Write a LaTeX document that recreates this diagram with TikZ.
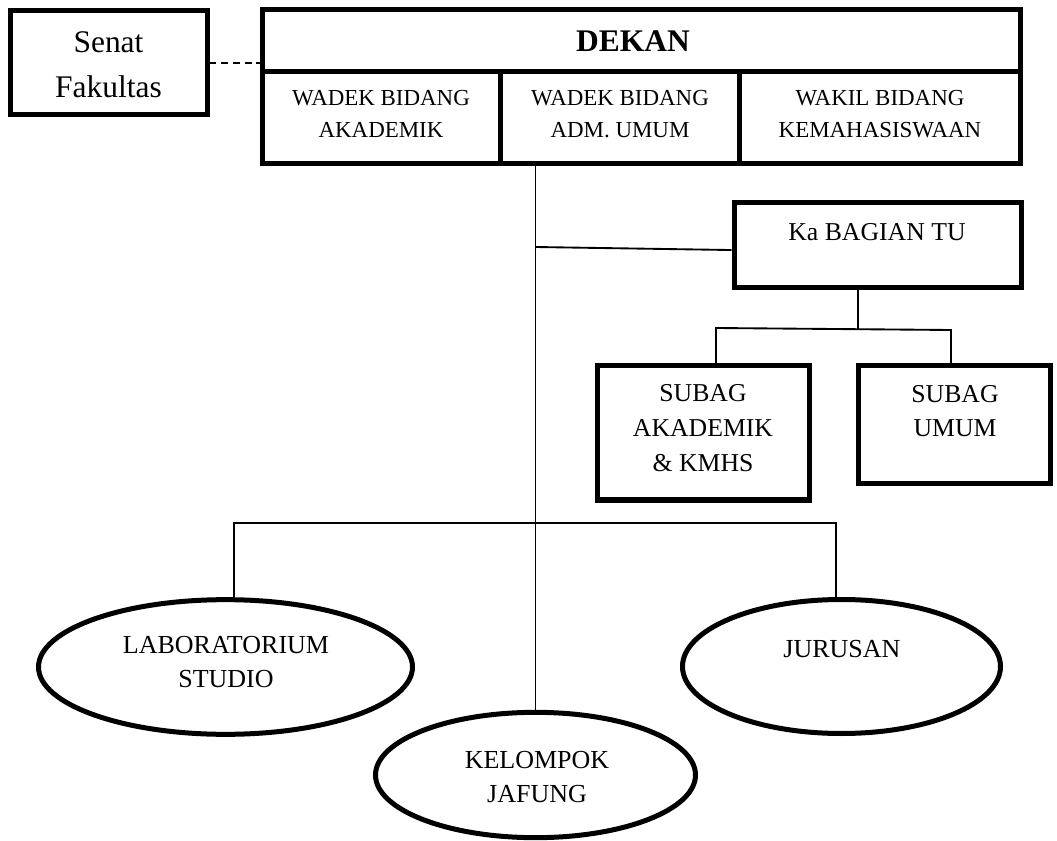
\documentclass[tikz,border=0pt]{standalone}
\usepackage{fontspec}
\setmainfont{Liberation Serif}
\usetikzlibrary{fit,shapes.geometric}
\tikzset{
  boxst/.style={draw, line width=3.75pt, inner sep=0pt, fit={#1}},
  ovalst/.style={draw, ellipse, line width=3.75pt, inner sep=0pt},
  conn/.style={line width=1.4pt},
  dashconn/.style={line width=1.5pt, dash pattern=on 5.2pt off 3.6pt},
  txt/.style={align=center, inner sep=0pt},
  fbig/.style={font=\fontsize{23.6}{33.8}\selectfont},
  fcell/.style={font=\fontsize{17.2}{23.8}\selectfont},
  fmid/.style={font=\fontsize{19.3}{26}\selectfont},
  foval/.style={font=\fontsize{19.5}{25.5}\selectfont}
}
\begin{document}
\begin{tikzpicture}[x=0.75pt,y=-0.75pt]
\path[use as bounding box, fill=white] (0,0) rectangle (1057,841);

% boxes
\node[boxst={(10.5,10.5) (207,115)}] (senat) {};
\node[boxst={(262,9.5) (1020.5,71.5)}] (dekan) {};
\node[boxst={(262,71.5) (500,164)}] (wadek1) {};
\node[boxst={(500,71.5) (739,164)}] (wadek2) {};
\node[boxst={(739,71.5) (1020.5,164)}] (wakil) {};
\node[boxst={(734,203) (1021,288)}] (kabag) {};
\node[boxst={(597,366) (809,500)}] (sak) {};
\node[boxst={(858,366) (1050.5,483.5)}] (sum) {};

% ellipses
\node[ovalst, minimum width=280.5pt, minimum height=101pt] (lab) at (225.5,667) {};
\node[ovalst, minimum width=238.5pt, minimum height=100.5pt] (jur) at (841.5,666.5) {};
\node[ovalst, minimum width=240pt, minimum height=94pt] (kel) at (535.5,775) {};

% texts
\node[txt, fbig] (senat-t) at (108.5,65) {Senat\\Fakultas};
\node[txt, fbig, font=\fontsize{23.6}{30}\selectfont\bfseries] (dekan-t) at (633,41) {DEKAN};
\node[txt, fcell] (wadek1-t) at (381,114) {WADEK BIDANG\\AKADEMIK};
\node[txt, fcell] (wadek2-t) at (620,114) {WADEK BIDANG\\ADM. UMUM};
\node[txt, fcell] (wakil-t) at (880,114) {WAKIL BIDANG\\KEMAHASISWAAN};
\node[txt, fmid] (kabag-t) at (877,232) {Ka BAGIAN TU};
\node[txt, fmid] (sak-t) at (703,428) {SUBAG\\AKADEMIK\\\& KMHS};
\node[txt, fmid] (sum-t) at (955,411) {SUBAG\\UMUM};
\node[txt, foval] (lab-t) at (226,662) {LABORATORIUM\\STUDIO};
\node[txt, foval] (jur-t) at (842,649) {JURUSAN};
\node[txt, foval] (kel-t) at (537,777) {KELOMPOK\\JAFUNG};

% connectors
\draw[dashconn] (senat.east) -- (senat.east -| dekan.west);
\draw[conn] (wadek2.south -| kel.north) -- (kel.north);
\coordinate (j1) at (535.5,247);
\draw[conn] (j1) -- ([yshift=-3.4pt]kabag.west);
\coordinate (kb) at (858,329);
\coordinate (bl) at (716,328);
\coordinate (br) at (951,330);
\draw[conn] (kb |- kabag.south) -- (kb);
\draw[conn] (bl |- sak.north) -- (bl) -- (br) -- (br |- sum.north);
\coordinate (hl) at (234,523);
\coordinate (hr) at (836,523);
\draw[conn] (hl |- lab.north) -- (hl) -- (hr) -- (hr |- jur.north);
\end{tikzpicture}
\end{document}
